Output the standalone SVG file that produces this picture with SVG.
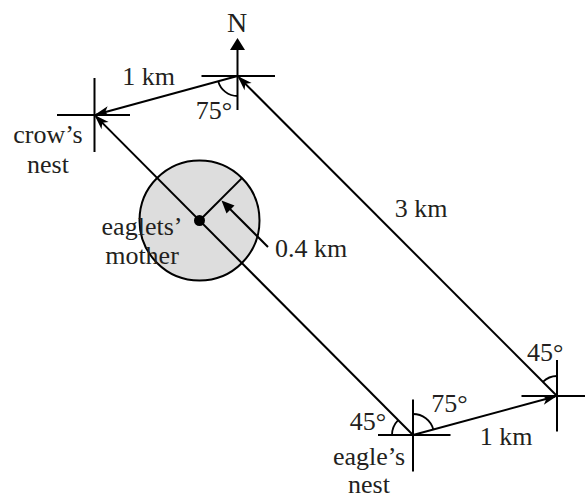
<svg xmlns="http://www.w3.org/2000/svg" width="585" height="500" viewBox="0 0 585 500">
<style>
.ln{stroke:#000;stroke-width:2;fill:none}
.arc{stroke:#000;stroke-width:1.8;fill:none}
text{font-family:"Liberation Serif","Times New Roman",serif;font-size:26px;fill:#231f20}
.m{text-anchor:middle}
</style>
<defs>
<marker id="ah" markerUnits="userSpaceOnUse" markerWidth="20" markerHeight="14" viewBox="-14 -7 20 14" refX="0" refY="0" orient="auto">
<path d="M2,0 L-13,-5 L-9,0 L-13,5 Z" fill="#000"/>
</marker>
</defs>
<rect width="585" height="500" fill="#fff"/>
<g id="eaglets-mother">
<circle cx="199.5" cy="220.5" r="60" fill="#dddddd" stroke="#000" stroke-width="2"/>
<line class="ln" x1="199.5" y1="220.5" x2="241.9" y2="178.1"/>
<circle cx="199.5" cy="220.5" r="5.5" fill="#000"/>
<line class="ln" x1="268" y1="247" x2="229" y2="208"/>
<path d="M221.5,200.5 L234.5,205.5 L226.5,213.5 Z" fill="#000"/>
<text class="m" x="142" y="235">eaglets’</text>
<text class="m" x="142" y="264">mother</text>
<text x="275" y="257">0.4 km</text>
</g>
<g id="connectors">
<line class="ln" x1="237.5" y1="76" x2="96.4" y2="114.5" marker-end="url(#ah)"/>
<line class="ln" x1="413" y1="435" x2="95.9" y2="116.4" marker-end="url(#ah)"/>
<line class="ln" x1="413" y1="435" x2="555.1" y2="396.5" marker-end="url(#ah)"/>
<line class="ln" x1="557" y1="396" x2="238.9" y2="77.4" marker-end="url(#ah)"/>
<text class="m" x="148.5" y="85">1 km</text>
<text class="m" x="506" y="445">1 km</text>
<text class="m" x="421" y="217">3 km</text>
</g>
<g id="north-point">
<line class="ln" x1="201.5" y1="76" x2="275" y2="76"/>
<line class="ln" x1="237.5" y1="110" x2="237.5" y2="49"/>
<path d="M237.5,38 L245,50 L230,50 Z" fill="#000"/>
<text class="m" x="237" y="32" style="font-size:28px">N</text>
<path class="arc" d="M237.5,96 A20,20 0 0,1 218.2,81.2"/>
<text class="m" x="214" y="119">75°</text>
</g>
<g id="crows-nest">
<line class="ln" x1="57" y1="115" x2="130" y2="115"/>
<line class="ln" x1="94.5" y1="78" x2="94.5" y2="152"/>
<text class="m" x="48" y="143">crow’s</text>
<text class="m" x="48" y="173">nest</text>
</g>
<g id="eagles-nest">
<line class="ln" x1="378" y1="435" x2="450.5" y2="435"/>
<line class="ln" x1="413" y1="399.5" x2="413" y2="471.5"/>
<path class="arc" d="M413,414 A21,21 0 0,1 433.3,429.5"/>
<path class="arc" d="M392,435 A21,21 0 0,1 398.2,420.2"/>
<text class="m" x="449.5" y="411.5">75°</text>
<text class="m" x="368" y="430">45°</text>
<text class="m" x="369" y="465">eagle’s</text>
<text class="m" x="369" y="493">nest</text>
</g>
<g id="right-point">
<line class="ln" x1="521.5" y1="396" x2="585" y2="396"/>
<line class="ln" x1="557" y1="360" x2="557" y2="431.5"/>
<path class="arc" d="M557,376 A20,20 0 0,0 542.9,381.9"/>
<text class="m" x="545.3" y="361">45°</text>
</g>
</svg>
